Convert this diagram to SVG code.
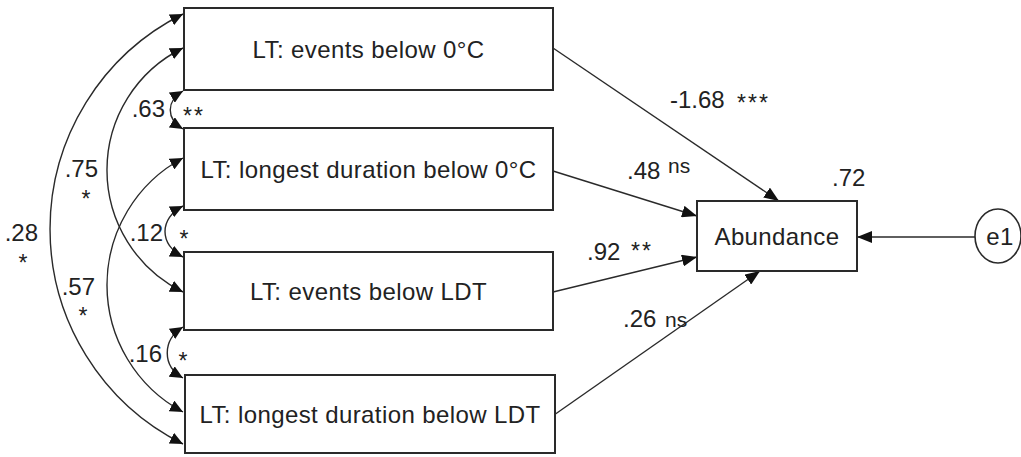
<svg xmlns="http://www.w3.org/2000/svg" width="1021" height="457" viewBox="0 0 1021 457">
<style>
.box{fill:#fff;stroke:#2a2a2a;stroke-width:2}
.lbl{font-family:"Liberation Sans",Arial,sans-serif;font-size:24px;fill:#222}
.node{text-anchor:middle;letter-spacing:0.4px}
.sig{font-family:"Liberation Sans",Arial,sans-serif;font-size:23px;fill:#222}
.ns{font-family:"Liberation Sans",Arial,sans-serif;font-size:21px;fill:#222}
.con{fill:none;stroke:#2a2a2a;stroke-width:1.4}
.cov{fill:none;stroke:#2a2a2a;stroke-width:1.4;marker-start:url(#ah);marker-end:url(#ah)}
.reg{fill:none;stroke:#2a2a2a;stroke-width:1.4;marker-end:url(#ah2)}
</style>
<defs>
<marker id="ah" markerUnits="userSpaceOnUse" markerWidth="14" markerHeight="12" refX="13" refY="6" orient="auto-start-reverse">
<path d="M0,0 L13,6 L0,12 z" fill="#111"/>
</marker>
<marker id="ah2" markerUnits="userSpaceOnUse" markerWidth="16" markerHeight="12" refX="15" refY="6" orient="auto">
<path d="M0,0 L15,6 L0,12 z" fill="#111"/>
</marker>
</defs>
<rect width="1021" height="457" fill="#fff"/>
<g id="connectors">
<path class="reg" d="M553,48 L779,201"/>
<path class="reg" d="M553,171 L697,216"/>
<path class="reg" d="M553,292 L697,257"/>
<path class="reg" d="M554,415 L760,271"/>
<path class="reg" d="M975,237 L857,237"/>
<path class="cov" d="M183,14 A240.3,240.3 0 0 0 183,444"/>
<path class="cov" d="M183,48 A135.9,135.9 0 0 0 183,292"/>
<path class="cov" d="M183,158 A144.1,144.1 0 0 0 183,412"/>
<path class="cov" d="M183,91 C166,101 166,119 183,129"/>
<path class="cov" d="M183,206 C159,218 159,245 183,257"/>
<path class="cov" d="M183,327 C162,340 162,366 183,378"/>
</g>
<g id="n1">
<rect class="box" x="184" y="8" width="369" height="82"/>
<text class="lbl node" x="368.5" y="58">LT: events below 0°C</text>
</g>
<g id="n2">
<rect class="box" x="184" y="128" width="369" height="82"/>
<text class="lbl node" x="368.5" y="178">LT: longest duration below 0°C</text>
</g>
<g id="n3">
<rect class="box" x="184" y="252" width="369" height="78"/>
<text class="lbl node" x="368.5" y="300">LT: events below LDT</text>
</g>
<g id="n4">
<rect class="box" x="185" y="375" width="370" height="78"/>
<text class="lbl node" x="370" y="423">LT: longest duration below LDT</text>
</g>
<g id="abundance">
<rect class="box" x="697" y="201" width="160" height="70"/>
<text class="lbl node" x="777" y="245">Abundance</text>
</g>
<g id="e1">
<ellipse cx="998" cy="236" rx="23" ry="27" fill="#fff" stroke="#2a2a2a" stroke-width="1.6"/>
<text class="lbl node" x="1000" y="245">e1</text>
</g>
<g id="labels">
<text class="lbl" x="670" y="108">-1.68</text>
<text class="sig" x="737" y="111" letter-spacing="2">***</text>
<text class="lbl" x="627" y="179">.48</text>
<text class="ns" x="668" y="173">ns</text>
<text class="lbl" x="832" y="186">.72</text>
<text class="lbl" x="587" y="260">.92</text>
<text class="sig" x="631" y="259" letter-spacing="2">**</text>
<text class="lbl" x="623" y="327">.26</text>
<text class="ns" x="665" y="327">ns</text>
<text class="lbl" x="165" y="117" text-anchor="end">.63</text>
<text class="sig" x="183" y="124" letter-spacing="2">**</text>
<text class="lbl" x="98" y="177" text-anchor="end">.75</text>
<text class="sig" x="86" y="207" text-anchor="middle">*</text>
<text class="lbl" x="38" y="241" text-anchor="end">.28</text>
<text class="sig" x="23" y="271" text-anchor="middle">*</text>
<text class="lbl" x="163" y="241" text-anchor="end">.12</text>
<text class="sig" x="184" y="247" text-anchor="middle">*</text>
<text class="lbl" x="95" y="295" text-anchor="end">.57</text>
<text class="sig" x="83" y="324" text-anchor="middle">*</text>
<text class="lbl" x="162" y="362" text-anchor="end">.16</text>
<text class="sig" x="183" y="369" text-anchor="middle">*</text>
</g>
</svg>
